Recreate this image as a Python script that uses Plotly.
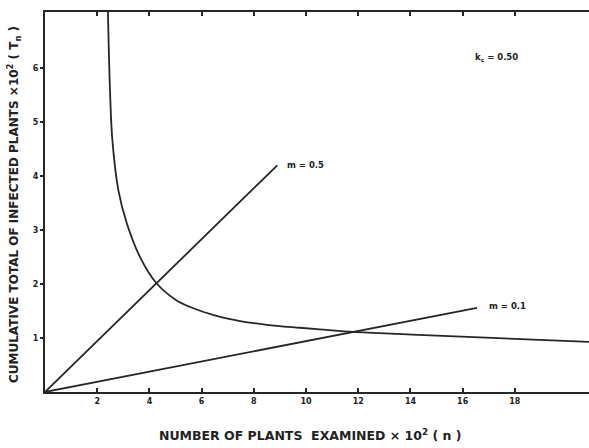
import plotly.graph_objects as go

# Curve T_n versus n, units x10^2
curve_n = [2.41, 2.49, 2.58, 2.81, 3.13, 3.64, 4.28, 5.0, 5.56, 6.5, 7.47, 8.5, 9.77, 10.8, 11.8, 13.5, 15.0, 18.0, 20.84]
curve_T = [7.05, 5.59, 4.67, 3.74, 3.13, 2.50, 2.01, 1.71, 1.575, 1.42, 1.315, 1.245, 1.19, 1.15, 1.115, 1.075, 1.045, 0.985, 0.93]

# Straight lines m = 0.5 and m = 0.1
m05_n = [0.0, 8.9]
m05_T = [0.0, 4.2]
m01_n = [0.0, 16.55]
m01_T = [0.0, 1.56]

x_ticks = [2, 4, 6, 8, 10, 12, 14, 16, 18]
y_ticks = [1, 2, 3, 4, 5, 6]

line_col = "#262626"
font_fam = "DejaVu Sans, Verdana, sans-serif"

fig = go.Figure()
fig.add_trace(go.Scatter(x=curve_n, y=curve_T, mode="lines",
                         line=dict(color=line_col, width=1.8, shape="spline", smoothing=1.0),
                         showlegend=False, hoverinfo="skip"))
for xs, ys in [(m05_n, m05_T), (m01_n, m01_T)]:
    fig.add_trace(go.Scatter(x=xs, y=ys, mode="lines",
                             line=dict(color=line_col, width=1.8),
                             showlegend=False, hoverinfo="skip"))

fig.update_layout(
    width=589, height=448,
    margin=dict(l=45, r=0, t=12, b=56),
    paper_bgcolor="white", plot_bgcolor="white",
    font=dict(family=font_fam, color="#222"),
    xaxis=dict(range=[0, 20.84], tickvals=x_ticks, ticktext=[f"<b>{v}</b>" for v in x_ticks],
               ticks="inside", ticklen=4, tickwidth=1.5, tickcolor=line_col,
               showline=True, linecolor=line_col, linewidth=2, mirror="ticks",
               showgrid=False, zeroline=False, tickfont=dict(size=8)),
    yaxis=dict(range=[0, 7.04], tickvals=y_ticks, ticktext=[f"<b>{v}</b>" for v in y_ticks],
               ticks="outside", ticklen=3, tickwidth=1.5, tickcolor=line_col,
               showline=True, linecolor=line_col, linewidth=2, mirror=False,
               showgrid=False, zeroline=False, tickfont=dict(size=8)),
)

fig.add_annotation(xref="paper", yref="paper", x=-(45 - 14) / 544, y=0.492,
                   text="<b>CUMULATIVE TOTAL OF INFECTED PLANTS ×10<sup>2</sup> ( T<sub>n</sub> )</b>",
                   textangle=-90, showarrow=False, font=dict(size=12, family=font_fam),
                   xanchor="center", yanchor="middle")
fig.add_annotation(xref="paper", yref="paper", x=0.487, y=-0.113,
                   text="<b>NUMBER OF PLANTS  EXAMINED × 10<sup>2</sup> ( n )</b>",
                   showarrow=False, font=dict(size=12.5, family=font_fam),
                   xanchor="center", yanchor="middle")
fig.add_annotation(x=9.2, y=4.2, text="<b>m = 0.5</b>", showarrow=False,
                   xanchor="left", yanchor="middle", font=dict(size=8.5, family=font_fam))
fig.add_annotation(x=16.95, y=1.6, text="<b>m = 0.1</b>", showarrow=False,
                   xanchor="left", yanchor="middle", font=dict(size=8.5, family=font_fam))
fig.add_annotation(x=16.4, y=6.2, text="<b>k<sub>c</sub> = 0.50</b>", showarrow=False,
                   xanchor="left", yanchor="middle", font=dict(size=8.5, family=font_fam))

fig.write_html("out.html", config={"displayModeBar": False},
               post_script="document.body.style.margin='0';document.body.style.overflow='hidden';")
